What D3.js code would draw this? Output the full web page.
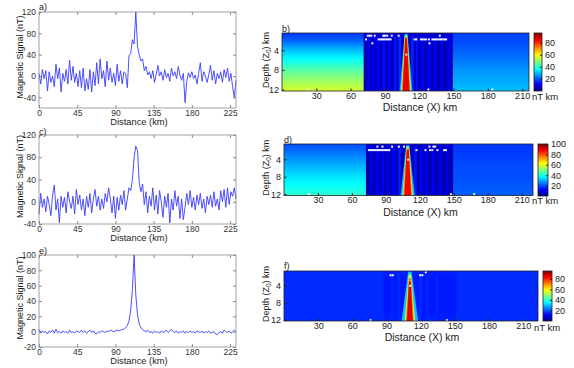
<!DOCTYPE html>
<html>
<head>
<meta charset="utf-8">
<script src="https://cdn.jsdelivr.net/npm/d3@7"></script>
<style>
  body { margin: 0; background: #fff; }
  svg { display: block; }
</style>
</head>
<body>
<svg id="fig" width="574" height="368"></svg>
<script>
// ---- profile data (nT), sampled every 2 km from 0 to 232 km ----
const distances = d3.range(0, 233, 2);
const signalA = [5, -15, 12, -5, 10, -28, 8, -12, 0, -20, 22, -5, 15, -30, 5, -10, 12, -15, 30, -8,
  18, -12, 5, -20, 10, -22, 15, -28, -5, -25, 12, -30, 8, -18, 25, -15, 32, -5, 10, -20,
  28, -8, 15, -12, 5, -18, 22, -10, 10, -15, 8, 5, -22, 38, 42, 68, 60, 120, 55, 40,
  28, 32, 10, 18, 2, 8, -5, 10, -12, 3, 20, 0, 8, -8, 12, -3, 5, -10, 15, 0,
  8, -5, 18, 2, -8, 5, -50, -10, 6, -3, 8, -5, 2, -15, 5, 25, -10, 8, 0, -12,
  3, 20, -8, 10, -15, 5, -5, 8, -12, 12, -3, 15, -10, 5, -20, -40, -8];
const signalC = [-22, 15, -10, 5, -18, 10, -5, -25, 12, 30, -15, 5, -38, 10, -10, 8, -20, 18, 0, -12,
  10, -22, 22, -5, 12, -15, 5, -25, 10, -10, 15, -20, 5, 22, -8, 10, -15, 5, -12, 15,
  0, 25, 5, -20, 10, -30, 8, -15, 12, -5, 20, -15, 5, 25, 20, 40, 80, 100, 92, 35,
  18, 32, -5, 18, -20, 10, -8, 25, -15, 12, -22, 20, 0, -28, 10, -10, 15, -38, 5, -15,
  20, -8, 10, -30, 5, -32, -10, 15, -5, 20, -10, 8, -15, 12, -5, 15, -12, 5, -20, 10,
  -5, 12, -10, 18, -8, 5, -15, 20, 0, 22, -10, 25, -5, 18, 10, 25, 5];
const signalE = [3, -2, 1, -1, 0, -3, 1, -1, 2, -2, 3, -1, 0, -2, 1, -1, 0, -2, 2, -1,
  0, -2, 1, 0, -1, 2, -1, 1, -2, 0, 2, -1, 1, -2, -3, 0, -1, 1, 0, -1,
  1, 0, 2, 1, 0, 1, 2, 1, 2, 3, 3, 5, 8, 14, 28, 55, 100, 48, 22, 10,
  5, 3, 1, 0, 2, -1, 0, -2, 1, -1, 0, -2, 1, -1, 0, 2, -1, 1, 3, 0,
  -1, 1, -2, 0, -1, 1, -2, 0, -1, 1, -1, 0, -2, 1, 0, -1, 1, -2, 0, -1,
  1, -2, -1, 0, -3, -4, -1, 0, -2, 2, 0, -1, 1, -2, 0, 2, 0];
const lineXTicks = [0, 45, 90, 135, 180, 225];
const yTicksA = [-40, 0, 40, 80, 120];
const yTicksC = [-40, 0, 40, 80, 120];
const yTicksE = [-20, 0, 20, 40, 60, 80, 100];

// ---- depth sections (values in nT km) ----
const bandDepths = [0.5, 2, 4, 6, 8, 10, 12.3];
// [from km, to km, value at each band depth]
const bandsB = [[-5, 72, 17, 21, 30, 37, 44, 50, 56], [72, 150, 9, 6, 5, 5, 5, 5, 6], [150, 230, 18, 19, 21, 23, 26, 28, 30]];
const bandsD = [[-5, 73, 20, 23, 27, 31, 35, 38, 42], [73, 150, 10, 6, 5, 5, 5, 5, 6], [150, 230, 18, 18, 19, 20, 20, 21, 22]];
const bandsF = [[-5, 88, 16, 16, 16, 16, 16, 16, 16], [88, 152, 15, 14, 14, 14, 14, 14, 15], [152, 230, 16, 16, 16, 16, 16, 16, 16]];
// [km, value] vertical streaks
const streaksB = [[76, 11], [80, 10], [84, 12], [89, 13], [94, 12], [99, 14], [103, 16], [114, 15], [118, 13], [123, 12], [129, 12], [134, 11], [140, 10], [146, 10]];
const streaksD = [[77, 10], [82, 11], [87, 12], [92, 11], [97, 13], [102, 15], [116, 14], [121, 12], [126, 12], [132, 11], [138, 10], [144, 10]];
const streaksF = [[95, 15.5], [101, 16], [120, 16], [126, 15.5], [134, 15.5]];
// source wedge: [value, top depth, half width at top (km), half width at 12 km]
const wedgeCentre = { b: 108.5, d: 109.3, f: 110.5 };
const wedgeB = [[30, 0.7, 1.3, 5.6], [55, 1.0, 1.1, 4.4], [72, 1.3, 0.9, 3.7], [86, 1.6, 0.8, 3.0]];
const wedgeD = [[30, 0.8, 1.4, 6.4], [55, 1.1, 1.1, 4.8], [72, 1.4, 1.0, 4.0], [88, 1.8, 0.9, 3.1]];
const wedgeF = [[30, 0.6, 1.5, 7.3], [55, 1.3, 1.1, 4.6], [72, 2.2, 0.9, 3.5], [86, 3.0, 0.8, 2.6]];
// solutions [km, depth]
const dotsB = [[75, 1.05], [76.5, 1.05], [78, 1.05], [81, 1.05], [88.5, 1.05], [90, 1.05], [92, 1.05], [96, 1.05], [102, 1.05], [138, 1.05],
  [73.5, 1.8], [84.5, 1.8], [86, 1.8], [87.5, 1.8], [89, 1.8], [90.5, 1.8], [92, 1.8], [93.5, 1.8], [95, 1.8], [116, 1.8], [117.5, 1.8],
  [121.5, 1.8], [123, 1.8], [124.5, 1.8], [126, 1.8], [128.5, 1.8], [131.5, 1.8], [133, 1.8], [134.5, 1.8], [136, 1.8], [137.5, 1.8],
  [139, 1.8], [140.5, 1.8], [142, 1.8], [143.5, 1.8], [79, 2.6], [129, 2.6], [108.7, 4.9], [23, 12], [128, 12], [184, 12]];
const dotsD = [[82.5, 1.1], [87, 1.1], [95.5, 1.1], [101.5, 1.1], [106, 1.1], [128.5, 1.1], [132, 1.1], [133.5, 1.1],
  [75, 1.9], [76.5, 1.9], [78, 1.9], [79.5, 1.9], [81, 1.9], [82.5, 1.9], [84, 1.9], [85.5, 1.9], [87, 1.9], [88.5, 1.9], [90, 1.9],
  [91.5, 1.9], [93, 1.9], [117, 1.9], [125, 1.9], [129, 1.9], [131, 1.9], [135.5, 1.9], [141.5, 1.9], [143, 1.9],
  [109.7, 4.1], [22, 12], [147.5, 12], [168, 12]];
const dotsF = [[93.5, 1.5], [95.5, 1.5], [119.5, 1.5], [121.5, 1.5], [124.5, 0.8], [110.8, 4], [76, 12.1], [143, 12.1]];
const secXTicks = [30, 60, 90, 120, 150, 180, 210];
const depthTicks = [4, 8, 12];
const cbTicksB = [20, 40, 60, 80];
const cbTicksD = [20, 40, 60, 80, 100];
const cbTicksF = [20, 40, 60, 80];

// jet colormap
const jetStops = [0, 0.125, 0.375, 0.625, 0.875, 1];
const jetColors = ['#000080', '#0000ff', '#00ffff', '#ffff00', '#ff0000', '#800000'];

const FONT = '"Liberation Sans", Arial, sans-serif';
const TXT = '#222';
const svg = d3.select('#fig');
const defs = svg.append('defs');
defs.append('filter').attr('id', 'soft').attr('x', '-5%').attr('y', '-5%').attr('width', '110%').attr('height', '110%')
  .append('feGaussianBlur').attr('stdDeviation', 0.7);

const fmt = d => String(d);

function label(g, txt, x, y, size, anchor, rot) {
  const t = g.append('text').attr('font-family', FONT).attr('font-size', size).attr('fill', TXT)
    .attr('text-anchor', anchor || 'middle');
  if (rot) t.attr('transform', `translate(${x},${y}) rotate(-90)`);
  else t.attr('x', x).attr('y', y);
  t.text(txt);
  return t;
}

function linePanel(o) {
  const x = d3.scaleLinear().domain([0, 232]).range([o.l, o.r]);
  const y = d3.scaleLinear().domain(o.yDomain).range([o.b, o.t]);
  const g = svg.append('g');
  const styleAxis = a => a.attr('font-family', FONT).attr('font-size', 8.5);
  g.append('g').attr('transform', `translate(0,${o.b})`)
    .call(d3.axisBottom(x).tickValues(lineXTicks).tickSize(-3).tickPadding(2).tickFormat(fmt)).call(styleAxis);
  g.append('g').attr('transform', `translate(0,${o.t})`)
    .call(d3.axisTop(x).tickValues(lineXTicks).tickSize(-3).tickFormat(''));
  g.append('g').attr('transform', `translate(${o.l},0)`)
    .call(d3.axisLeft(y).tickValues(o.yTicks).tickSize(-3).tickPadding(3).tickFormat(fmt)).call(styleAxis);
  g.append('g').attr('transform', `translate(${o.r},0)`)
    .call(d3.axisRight(y).tickValues(o.yTicks).tickSize(-3).tickFormat(''));
  g.selectAll('.domain').remove();
  g.selectAll('.tick line').attr('stroke', '#8a8a8a');
  g.selectAll('.tick text').attr('fill', '#333');

  g.append('path').datum(o.values)
    .attr('d', d3.line().x((d, i) => x(distances[i])).y(d => y(d)))
    .attr('fill', 'none').attr('stroke', '#3b3bff').attr('stroke-width', 0.9).attr('stroke-linejoin', 'round');

  g.append('rect').attr('x', o.l).attr('y', o.t).attr('width', o.r - o.l).attr('height', o.b - o.t)
    .attr('fill', 'none').attr('stroke', '#8a8a8a').attr('stroke-width', 0.8);

  label(g, 'Distance (km)', 139, o.xTitleY, 9.3);
  label(g, 'Magnetic Signal (nT)', 23, (o.t + o.b) / 2 - 3, 9, 'middle', true);
  label(g, o.letter, o.l, o.letterY, 9, 'start');
}

function heatPanel(o) {
  const x = d3.scaleLinear().domain([0, o.xMax]).range([o.l, o.r]);
  const y = d3.scaleLinear().domain([0.5, 12.3]).range([o.t, o.b]);
  const color = d3.scaleLinear().domain(jetStops.map(s => s * o.cMax)).range(jetColors).clamp(true);
  const g = svg.append('g');

  defs.append('clipPath').attr('id', 'clip-' + o.id).append('rect')
    .attr('x', o.l).attr('y', o.t).attr('width', o.r - o.l).attr('height', o.b - o.t);
  const img = g.append('g').attr('clip-path', `url(#clip-${o.id})`);
  const field = img.append('g').attr('filter', 'url(#soft)');

  // depth bands with vertical colour gradients (slightly overlapped so no seams show)
  o.bands.forEach((band, bi) => {
    const vals = band.slice(2);
    const gid = `grad-${o.id}-${bi}`;
    const gr = defs.append('linearGradient').attr('id', gid).attr('gradientUnits', 'userSpaceOnUse')
      .attr('x1', 0).attr('x2', 0).attr('y1', y(bandDepths[0])).attr('y2', y(bandDepths[bandDepths.length - 1]));
    const span = bandDepths[bandDepths.length - 1] - bandDepths[0];
    for (let i = 0; i < vals.length - 1; i++) {
      for (let k = 0; k < 4; k++) {
        const f = k / 4;
        const dep = bandDepths[i] + f * (bandDepths[i + 1] - bandDepths[i]);
        gr.append('stop').attr('offset', (dep - bandDepths[0]) / span)
          .attr('stop-color', color(vals[i] + f * (vals[i + 1] - vals[i])));
      }
    }
    gr.append('stop').attr('offset', 1).attr('stop-color', color(vals[vals.length - 1]));
    field.append('rect').attr('x', x(band[0]) - 0.7).attr('width', x(band[1]) - x(band[0]) + 1.4)
      .attr('y', y(-1)).attr('height', y(14) - y(-1)).attr('fill', `url(#${gid})`);
  });

  field.selectAll('rect.streak').data(o.streaks).enter().append('rect').attr('class', 'streak')
    .attr('x', d => x(d[0] - 1.2)).attr('width', x(2.4) - x(0))
    .attr('y', y(1.2)).attr('height', y(14) - y(1.2))
    .attr('fill', d => color(d[1]));

  const c = o.centre;
  field.selectAll('path.wedge').data(o.wedge).enter().append('path').attr('class', 'wedge')
    .attr('d', d => `M${x(c - d[2])},${y(d[1])}L${x(c + d[2])},${y(d[1])}` +
      `L${x(c + d[3] * 1.03)},${y(12.8)}L${x(c - d[3] * 1.03)},${y(12.8)}Z`)
    .attr('fill', d => color(d[0]));

  img.selectAll('rect.dot').data(o.dots).enter().append('rect').attr('class', 'dot')
    .attr('x', d => x(d[0]) - 1).attr('y', d => y(d[1]) - 1).attr('width', 2).attr('height', 2)
    .attr('fill', '#fff').attr('opacity', 0.95);

  g.append('rect').attr('x', o.l).attr('y', o.t).attr('width', o.r - o.l).attr('height', o.b - o.t)
    .attr('fill', 'none').attr('stroke', '#222').attr('stroke-width', 0.8);

  const styleAxis = a => a.attr('font-family', FONT).attr('font-size', 9);
  g.append('g').attr('transform', `translate(0,${o.b})`)
    .call(d3.axisBottom(x).tickValues(secXTicks).tickSize(-2.5).tickPadding(o.tickPad).tickFormat(fmt)).call(styleAxis);
  g.append('g').attr('transform', `translate(${o.l},0)`)
    .call(d3.axisLeft(y).tickValues(depthTicks).tickSize(-2.5).tickPadding(3).tickFormat(fmt)).call(styleAxis);

  // colour bar
  const cb = o.cb;
  const cgid = 'cbar-' + o.id;
  const cg = defs.append('linearGradient').attr('id', cgid).attr('x1', 0).attr('y1', 1).attr('x2', 0).attr('y2', 0);
  jetStops.forEach((s, i) => cg.append('stop').attr('offset', s).attr('stop-color', jetColors[i]));
  g.append('rect').attr('x', cb.l).attr('y', o.t).attr('width', cb.r - cb.l).attr('height', o.cbB - o.t)
    .attr('fill', `url(#${cgid})`).attr('stroke', '#222').attr('stroke-width', 0.8);
  const cy = d3.scaleLinear().domain([0, o.cMax]).range([o.cbB, o.t]);
  g.append('g').attr('transform', `translate(${cb.r},0)`)
    .call(d3.axisRight(cy).tickValues(o.cbTicks).tickSize(-2).tickPadding(3).tickFormat(fmt)).call(styleAxis);

  g.selectAll('.domain').remove();
  g.selectAll('.tick line').attr('stroke', '#222');
  g.selectAll('.tick text').attr('fill', TXT);

  label(g, 'nT km', o.unitX, o.unitY, 9.5);
  label(g, 'Distance (X) km', o.titleX, o.titleY, 10.5);
  const dt = label(g, '', 268.5, (o.t + o.b) / 2 - 2, 9, 'middle', true);
  dt.append('tspan').text('Depth (Z');
  dt.append('tspan').attr('font-size', 6.5).attr('dy', 2).text('0');
  dt.append('tspan').attr('dy', -2).text(') km');
  label(g, o.letter, o.l, o.letterY, 9, 'start');
}

linePanel({ l: 39, r: 236, t: 12, b: 108, yDomain: [-60, 120], yTicks: yTicksA, values: signalA,
  xTitleY: 125, letter: 'a)', letterY: 10 });
linePanel({ l: 39, r: 236, t: 135, b: 224, yDomain: [-40, 120], yTicks: yTicksC, values: signalC,
  xTitleY: 241, letter: 'c)', letterY: 135 });
linePanel({ l: 39, r: 236, t: 255, b: 347, yDomain: [-20, 100], yTicks: yTicksE, values: signalE,
  xTitleY: 364, letter: 'e)', letterY: 254 });

heatPanel({ id: 'b', l: 282, r: 529, t: 33, b: 91, xMax: 216, cMax: 96, bands: bandsB, streaks: streaksB,
  centre: wedgeCentre.b, wedge: wedgeB, dots: dotsB, cb: { l: 534, r: 542 }, cbB: 91, cbTicks: cbTicksB,
  unitX: 545, unitY: 100, titleX: 420, titleY: 111, tickPad: 2, letter: 'b)', letterY: 32 });
heatPanel({ id: 'd', l: 284, r: 533, t: 144, b: 195.5, xMax: 220, cMax: 100, bands: bandsD, streaks: streaksD,
  centre: wedgeCentre.d, wedge: wedgeD, dots: dotsD, cb: { l: 538, r: 548 }, cbB: 196, cbTicks: cbTicksD,
  unitX: 545, unitY: 204, titleX: 420.5, titleY: 215.5, tickPad: 1.5, letter: 'd)', letterY: 143 });
heatPanel({ id: 'f', l: 284, r: 538, t: 271, b: 321, xMax: 223, cMax: 95, bands: bandsF, streaks: streaksF,
  centre: wedgeCentre.f, wedge: wedgeF, dots: dotsF, cb: { l: 543, r: 552 }, cbB: 321, cbTicks: cbTicksF,
  unitX: 547, unitY: 331, titleX: 422, titleY: 340.5, tickPad: 2, letter: 'f)', letterY: 269 });
</script>
</body>
</html>
